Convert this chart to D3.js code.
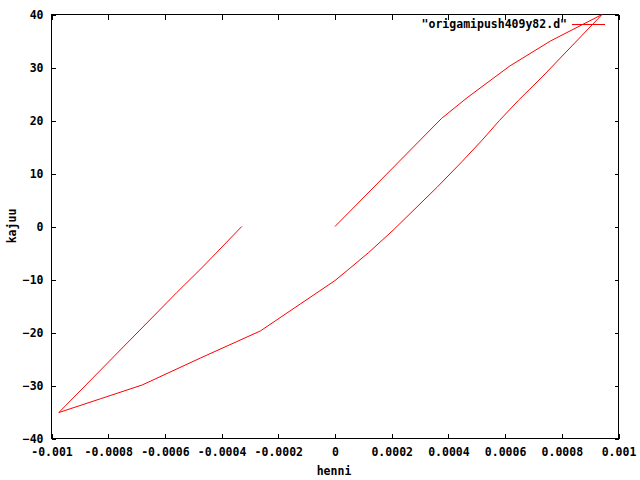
<!DOCTYPE html>
<html>
<head>
<meta charset="utf-8">
<script src="https://cdn.jsdelivr.net/npm/d3@7"></script>
<style>
  html, body { margin: 0; padding: 0; background: #fff; }
  svg { display: block; }
  text { font-family: "DejaVu Sans Mono", "Liberation Mono", monospace; font-weight: bold; font-size: 11.5px; fill: #000; }
</style>
</head>
<body>
<svg id="chart" width="640" height="480"></svg>
<script>
// ---- data ----
const seriesName = '"origamipush409y82.d"';
const henni = [0, 0.000376, 0.000466, 0.000617, 0.000760, 0.000942,
               0.000872, 0.000734, 0.000647, 0.000580, 0.000519, 0.000449, 0.000360, 0.000205, 0.000119, 0.000043, 0, -0.000263,
               -0.000474, -0.000680, -0.000827, -0.000974,
               -0.000557, -0.000466, -0.000329];
const kajuu = [0, 20.4, 24.3, 30.3, 35.0, 40.0,
               36.1, 28.4, 23.8, 20.0, 16.3, 12.3, 7.4, -0.7, -4.9, -8.3, -10.2, -19.7,
               -24.8, -29.9, -32.5, -35.1,
               -12.4, -7.6, 0];
const xTicks = [-0.001, -0.0008, -0.0006, -0.0004, -0.0002, 0, 0.0002, 0.0004, 0.0006, 0.0008, 0.001];
const xTickLabels = ["-0.001", "-0.0008", "-0.0006", "-0.0004", "-0.0002", "0", "0.0002", "0.0004", "0.0006", "0.0008", "0.001"];
const yTicks = [-40, -30, -20, -10, 0, 10, 20, 30, 40];
const xLabel = "henni";
const yLabel = "kajuu";

// ---- layout ----
const L = 51.5, R = 618.5, T = 14.5, B = 438.5;
const svg = d3.select("#chart");
const x = d3.scaleLinear().domain([-0.001, 0.001]).range([L, R]);
const y = d3.scaleLinear().domain([-40, 40]).range([B, T]);

// axes (ticks drawn inward, mirrored)
const gBottom = svg.append("g").attr("transform", `translate(0,${B})`)
  .call(d3.axisBottom(x).tickValues(xTicks).tickSizeInner(-5).tickSizeOuter(0).tickPadding(8)
    .tickFormat((d, i) => xTickLabels[i]));
const gTop = svg.append("g").attr("transform", `translate(0,${T})`)
  .call(d3.axisTop(x).tickValues(xTicks).tickSizeInner(-5).tickSizeOuter(0).tickFormat(""));
const gLeft = svg.append("g").attr("transform", `translate(${L},0)`)
  .call(d3.axisLeft(y).tickValues(yTicks).tickSizeInner(-4).tickSizeOuter(0).tickPadding(8));
const gRight = svg.append("g").attr("transform", `translate(${R},0)`)
  .call(d3.axisRight(y).tickValues(yTicks).tickSizeInner(-4).tickSizeOuter(0).tickFormat(""));

svg.selectAll(".domain").remove();
svg.selectAll(".tick line").attr("stroke", "#000").attr("shape-rendering", "crispEdges");
svg.selectAll(".tick text").style("font-family", '"DejaVu Sans Mono", monospace').style("font-weight", "bold").style("font-size", "11.5px").attr("fill", "#000");
gBottom.selectAll(".tick text").attr("dy", "0.71em").attr("y", 9);

// frame
svg.append("rect").attr("x", L).attr("y", T).attr("width", R - L).attr("height", B - T)
  .attr("fill", "none").attr("stroke", "#000").attr("shape-rendering", "crispEdges");

// data line
const pts = henni.map((h, i) => [h, kajuu[i]]);
const line = d3.line().x(d => x(d[0])).y(d => y(d[1]));
svg.append("path").datum(pts).attr("d", line)
  .attr("fill", "none").attr("stroke", "#ff0000").attr("stroke-width", 1);

// legend
svg.append("text").attr("x", 567).attr("y", 24).attr("dy", "0.35em").attr("text-anchor", "end").text(seriesName);
svg.append("line").attr("x1", 572).attr("x2", 605).attr("y1", 24.5).attr("y2", 24.5)
  .attr("stroke", "#ff0000").attr("shape-rendering", "crispEdges");

// axis labels
svg.append("text").attr("x", 334).attr("y", 471).attr("dy", "0.35em").attr("text-anchor", "middle").text(xLabel);
svg.append("text").attr("transform", "translate(12,226) rotate(-90)").attr("dy", "0.35em").attr("text-anchor", "middle").text(yLabel);
</script>
</body>
</html>
